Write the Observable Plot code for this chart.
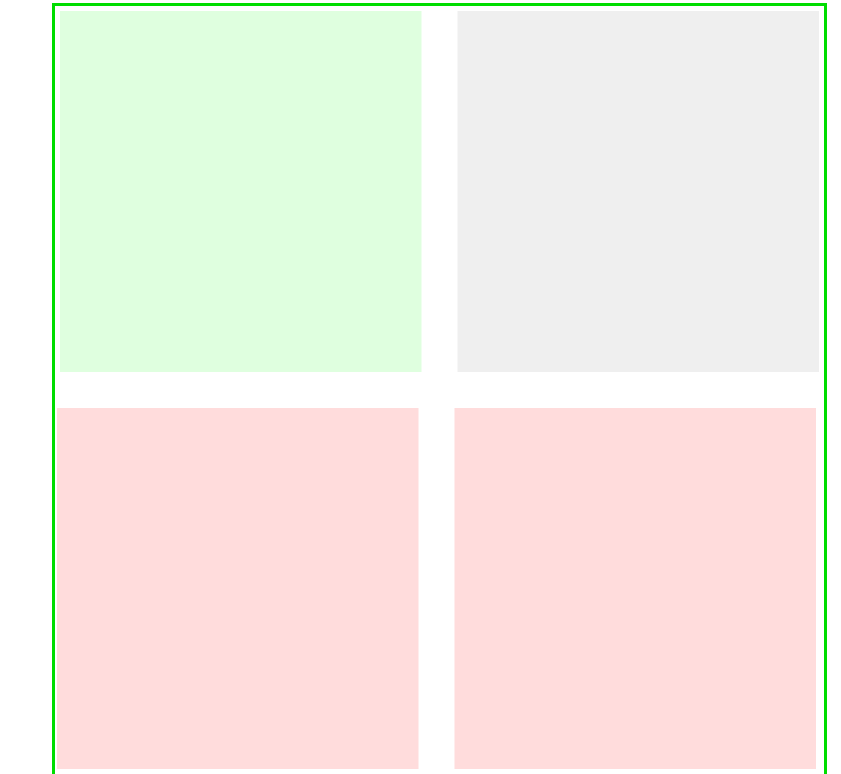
<!DOCTYPE html>
<html>
<head>
<meta charset="utf-8">
<script src="https://cdn.jsdelivr.net/npm/d3@7"></script>
<script src="https://cdn.jsdelivr.net/npm/@observablehq/plot@0.6"></script>
<style>
  html, body { margin: 0; padding: 0; overflow: hidden; background: #fff; }
  #frame {
    position: absolute;
    left: 52px;
    top: 3px;
    border: 3px solid #00dd00;
    width: 769px;
    height: 771px;
  }
  #frame svg { display: block; }
</style>
</head>
<body>
<div id="frame"></div>
<script>
// Data
const rows = ["top", "top", "bottom", "bottom"];
const cols = ["left", "right", "left", "right"];
const fills = ["#dfffdf", "#efefef", "#ffdcdc", "#ffdcdc"];

const cells = rows.map((r, i) => ({row: r, col: cols[i], fill: fills[i]}));

const chart = Plot.plot({
  width: 769,
  height: 771,
  margin: 0,
  x: {type: "band", domain: ["left", "right"], range: [5, 764], paddingInner: 36 / 397.5, paddingOuter: 0, round: false, axis: null},
  y: {type: "band", domain: ["top", "bottom"], range: [5, 763], paddingInner: 36 / 397, paddingOuter: 0, round: false, axis: null},
  color: {type: "identity"},
  marks: [
    Plot.cell(cells.filter(d => d.row === "top"), {x: "col", y: "row", fill: "fill", inset: 0}),
    Plot.cell(cells.filter(d => d.row === "bottom"), {x: "col", y: "row", fill: "fill", inset: 0, dx: -3})
  ]
});
document.getElementById("frame").appendChild(chart);
</script>
</body>
</html>
